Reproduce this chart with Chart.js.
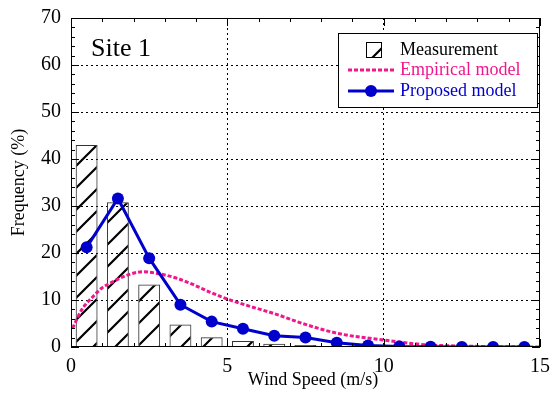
<!DOCTYPE html>
<html>
<head>
<meta charset="utf-8">
<script src="https://cdn.jsdelivr.net/npm/chart.js@4"></script>
<style>
  html, body { margin: 0; padding: 0; background: #fff; }
  #wrap { width: 551px; height: 394px; }
</style>
</head>
<body>
<div id="wrap"><canvas id="c" width="551" height="394"></canvas></div>
<script>
// measured histogram (bin centres, %)
const binCenters = [0.5, 1.5, 2.5, 3.5, 4.5, 5.5, 6.5, 7.5, 8.5, 9.5, 10.5, 11.5, 12.5, 13.5, 14.5];
const measured = [43, 30.8, 13.3, 4.8, 2.1, 1.3, 0.7, 0.4, 0.2, 0.1, 0.05, 0, 0, 0, 0];
// proposed model (points at bin centres)
const proposed = [21.2, 31.6, 18.9, 9.0, 5.4, 3.9, 2.4, 2.0, 0.9, 0.3, 0.1, 0.05, 0, 0, 0];
// empirical model curve
const empiricalX = [0.05, 0.35, 0.7, 1.0, 1.35, 1.8, 2.3, 2.8, 3.4, 3.9, 4.4, 5.0, 5.7, 6.5, 7.5, 8.6, 10.0, 11.3, 12.9, 14.0, 15.0];
const empiricalY = [4.0, 8.0, 10.7, 12.6, 13.9, 15.3, 16.0, 15.6, 14.6, 13.3, 11.8, 10.2, 8.7, 7.1, 4.8, 2.8, 1.5, 0.5, 0.15, 0.05, 0];

const pink = "#f0168c";
const blue = "#0000cc";
const serif = "'Liberation Serif', 'DejaVu Serif', serif";

function hatch() {
  const p = document.createElement("canvas");
  p.width = 22; p.height = 22;
  const g = p.getContext("2d");
  g.strokeStyle = "#000";
  g.lineWidth = 2.2;
  g.beginPath();
  g.moveTo(-2, 24); g.lineTo(24, -2);
  g.moveTo(-13, 13); g.lineTo(13, -13);
  g.moveTo(9, 35); g.lineTo(35, 9);
  g.stroke();
  return document.getElementById("c").getContext("2d").createPattern(p, "repeat");
}
const hatchPattern = hatch();

const frame = {
  id: "frame",
  afterDraw(chart) {
    const { ctx, chartArea: a, scales: { x, y } } = chart;
    ctx.save();
    ctx.strokeStyle = "#000";
    ctx.lineWidth = 1;
    ctx.strokeRect(a.left + 0.5, a.top + 0.5, a.right - a.left - 1, a.bottom - a.top - 1);
    // inside ticks
    ctx.beginPath();
    for (let v = 0; v <= 15; v += 1) {
      const px = Math.round(x.getPixelForValue(v)) + 0.5;
      const len = v % 5 === 0 ? 8 : 4;
      ctx.moveTo(px, a.bottom); ctx.lineTo(px, a.bottom - len);
      ctx.moveTo(px, a.top); ctx.lineTo(px, a.top + len);
    }
    for (let v = 0; v <= 70; v += 2) {
      const py = Math.round(y.getPixelForValue(v)) + 0.5;
      const len = v % 10 === 0 ? 8 : 4;
      ctx.moveTo(a.left, py); ctx.lineTo(a.left + len, py);
      ctx.moveTo(a.right, py); ctx.lineTo(a.right - len, py);
    }
    ctx.stroke();

    // x axis title (sits a little right of centre in the original)
    ctx.fillStyle = "#000";
    ctx.font = "18px " + serif;
    ctx.textAlign = "center";
    ctx.textBaseline = "alphabetic";
    ctx.fillText("Wind Speed (m/s)", 313, 385);
    ctx.textAlign = "left";

    // site label
    ctx.font = "26px " + serif;
    ctx.fillText("Site 1", 91, 56);

    // legend
    const lx = 338, ly = 33, lw = 199, lh = 74;
    ctx.fillStyle = "#fff";
    ctx.fillRect(lx, ly, lw, lh);
    ctx.strokeStyle = "#000";
    ctx.lineWidth = 1;
    ctx.strokeRect(lx + 0.5, ly + 0.5, lw, lh);
    ctx.font = "18px " + serif;
    ctx.textBaseline = "middle";
    // measurement swatch
    ctx.fillStyle = hatchPattern;
    ctx.save();
    ctx.translate(366, 42);
    ctx.fillRect(0, 0, 16, 16);
    ctx.restore();
    ctx.strokeRect(366.5, 42.5, 15, 15);
    ctx.fillStyle = "#000";
    ctx.fillText("Measurement", 400, 50);
    // empirical
    ctx.strokeStyle = pink;
    ctx.lineWidth = 3;
    ctx.setLineDash([4, 2]);
    ctx.beginPath(); ctx.moveTo(348, 70); ctx.lineTo(394, 70); ctx.stroke();
    ctx.setLineDash([]);
    ctx.fillStyle = pink;
    ctx.fillText("Empirical model", 400, 70);
    // proposed
    ctx.strokeStyle = blue;
    ctx.beginPath(); ctx.moveTo(348, 91); ctx.lineTo(394, 91); ctx.stroke();
    ctx.fillStyle = blue;
    ctx.beginPath(); ctx.arc(371, 91, 6, 0, Math.PI * 2); ctx.fill();
    ctx.fillText("Proposed model", 400, 91);
    ctx.restore();
  }
};

const dotted = (ctx) => {
  const v = ctx.tick ? ctx.tick.value : 0;
  return v === 0 || v === 70 || v === 15 ? "rgba(0,0,0,0)" : "#000";
};

new Chart(document.getElementById("c"), {
  type: "bar",
  data: {
    datasets: [
      {
        type: "line",
        label: "Proposed model",
        data: binCenters.map((x, i) => ({ x, y: proposed[i] })),
        borderColor: blue,
        backgroundColor: blue,
        borderWidth: 3,
        pointRadius: 6,
        pointBackgroundColor: blue,
        pointBorderWidth: 0,
        tension: 0,
        order: 0
      },
      {
        type: "line",
        label: "Empirical model",
        data: empiricalX.map((x, i) => ({ x, y: empiricalY[i] })),
        borderColor: pink,
        borderWidth: 3,
        borderDash: [4, 2],
        pointRadius: 0,
        tension: 0.4,
        cubicInterpolationMode: "monotone",
        order: 1
      },
      {
        label: "Measurement",
        data: binCenters.map((x, i) => ({ x, y: measured[i] })),
        backgroundColor: hatchPattern,
        borderColor: "#333",
        borderWidth: 1,
        borderSkipped: "bottom",
        barPercentage: 0.7,
        categoryPercentage: 1,
        order: 2
      }
    ]
  },
  options: {
    responsive: false,
    animation: false,
    layout: { padding: { top: 18, right: 11, left: 0, bottom: 0 } },
    plugins: { legend: { display: false }, tooltip: { enabled: false } },
    scales: {
      x: {
        type: "linear",
        min: 0, max: 15,
        offset: false,
        grid: { offset: false, color: dotted, drawTicks: false },
        border: { display: false, dash: [2, 3] },
        ticks: { stepSize: 5, color: "#000", font: { family: serif, size: 20 }, padding: 8, maxRotation: 0 },
        afterFit(s) { s.height = 47; s.paddingLeft = 0; s.paddingRight = 0; }
      },
      y: {
        min: 0, max: 70,
        grid: { color: dotted, drawTicks: false },
        border: { display: false, dash: [2, 3] },
        ticks: { stepSize: 10, color: "#000", font: { family: serif, size: 20 }, padding: 10 },
        title: { display: true, text: "Frequency (%)", color: "#000", font: { family: serif, size: 18 }, padding: { top: 8, bottom: 4 } },
        afterFit(s) { s.width = 71; s.paddingTop = 0; s.paddingBottom = 0; }
      }
    }
  },
  plugins: [frame]
});
</script>
</body>
</html>
